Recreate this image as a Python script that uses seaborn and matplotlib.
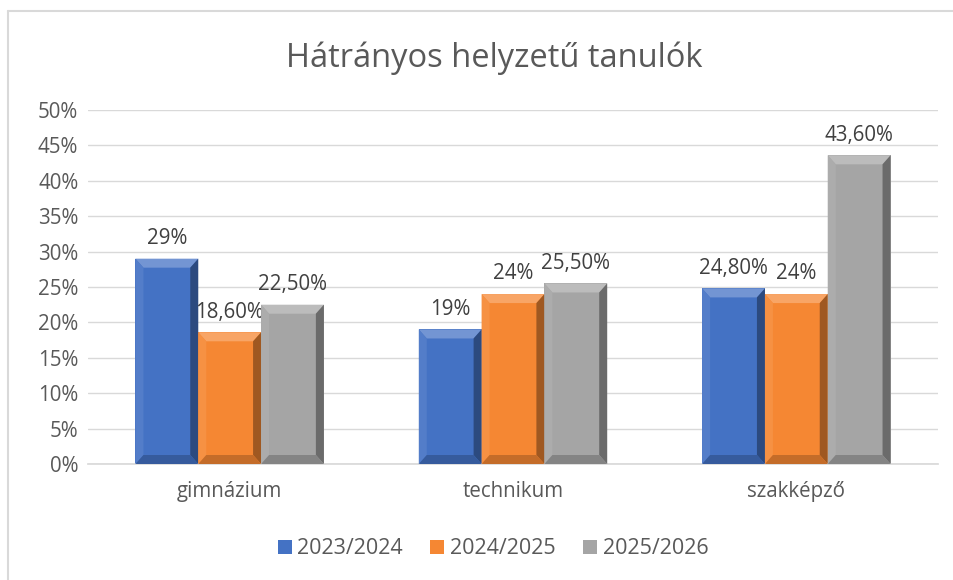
import matplotlib
matplotlib.use("Agg")
import matplotlib.pyplot as plt
from matplotlib.patches import Polygon, Patch
from matplotlib.lines import Line2D
import matplotlib.colors as mcolors
import seaborn as sns
import pandas as pd

categories = ["gimnázium", "technikum", "szakképző"]
series = ["2023/2024", "2024/2025", "2025/2026"]
values = {
    "2023/2024": [29.0, 19.0, 24.8],
    "2024/2025": [18.6, 24.0, 24.0],
    "2025/2026": [22.5, 25.5, 43.6],
}
labels = {
    "2023/2024": ["29%", "19%", "24,80%"],
    "2024/2025": ["18,60%", "24%", "24%"],
    "2025/2026": ["22,50%", "25,50%", "43,60%"],
}
yticks = [0, 5, 10, 15, 20, 25, 30, 35, 40, 45, 50]
title = "Hátrányos helyzetű tanulók"
colors = ["#4472C4", "#F58733", "#A5A5A5"]

sns.set_theme(style="white")
plt.rcParams["font.family"] = ["Open Sans", "DejaVu Sans"]

rows = []
for s in series:
    for c, v in zip(categories, values[s]):
        rows.append({"cat": c, "series": s, "val": v})
df = pd.DataFrame(rows)

fig = plt.figure(figsize=(9.54, 5.8), dpi=100)
ax = fig.add_axes([88 / 954, 116 / 580, 850 / 954, 354 / 580])

sns.barplot(data=df, x="cat", y="val", hue="series", order=categories,
            hue_order=series, palette=colors, width=0.665, ax=ax,
            saturation=1, legend=False, linewidth=0, errorbar=None)

ax.set_ylim(0, 50)
ax.set_xlim(-0.5, 2.5)
ax.set_yticks(yticks)
ax.set_yticklabels([f"{t}%" for t in yticks])
ax.yaxis.grid(True, color="#D9D9D9", linewidth=1)
ax.set_axisbelow(True)
for sp in ["top", "right", "left"]:
    ax.spines[sp].set_visible(False)
ax.spines["bottom"].set_color("#D9D9D9")
ax.set_xlabel("")
ax.set_ylabel("")
ax.tick_params(axis="both", colors="#595959", length=0)
ax.tick_params(axis="y", labelsize=14.8, pad=7)
ax.tick_params(axis="x", labelsize=14.8, pad=12)

# bevel effect on each bar
px_x = 3.0 / 850.0
px_y = 50.0 / 354.0
bx = 8 * px_x
by = 9 * px_y

def shade(c, f):
    r, g, b = mcolors.to_rgb(c)
    if f >= 0:
        return (r + (1 - r) * f, g + (1 - g) * f, b + (1 - b) * f)
    return (r * (1 + f), g * (1 + f), b * (1 + f))

for i, cont in enumerate(ax.containers):
    col = colors[i]
    for p in cont.patches:
        x0 = p.get_x()
        w = p.get_width()
        h = p.get_height()
        x1 = x0 + w
        polys = [
            ([(x0, h), (x1, h), (x1 - bx, h - by), (x0 + bx, h - by)], shade(col, 0.25)),
            ([(x0, 0), (x0, h), (x0 + bx, h - by), (x0 + bx, by)], shade(col, 0.08)),
            ([(x1, 0), (x1, h), (x1 - bx, h - by), (x1 - bx, by)], shade(col, -0.35)),
            ([(x0, 0), (x1, 0), (x1 - bx, by), (x0 + bx, by)], shade(col, -0.2)),
        ]
        for pts, c in polys:
            ax.add_patch(Polygon(pts, closed=True, facecolor=c, edgecolor="none", zorder=3))
    ax.bar_label(cont, labels=labels[series[i]], padding=7, fontsize=14.8,
                 color="#404040")

fig.suptitle(title, x=494 / 954, y=1 - 58 / 580, va="center",
             fontsize=23.5, color="#595959")

handles = [Patch(facecolor=c, edgecolor="none") for c in colors]
fig.legend(handles, series, loc="center", bbox_to_anchor=(493 / 954, 1 - 549 / 580),
           ncol=3, frameon=False, fontsize=15.5, labelcolor="#595959",
           handlelength=0.65, handleheight=0.65, handletextpad=0.25, columnspacing=1.3)

# chart border (left and top)
fig.add_artist(Line2D([8 / 954, 8 / 954], [0, 1 - 11 / 580], color="#D9D9D9", linewidth=1.5,
                      transform=fig.transFigure))
fig.add_artist(Line2D([8 / 954, 1], [1 - 11 / 580, 1 - 11 / 580], color="#D9D9D9",
                      linewidth=1.5, transform=fig.transFigure))

fig.savefig("out.png", dpi=100, facecolor="white")
